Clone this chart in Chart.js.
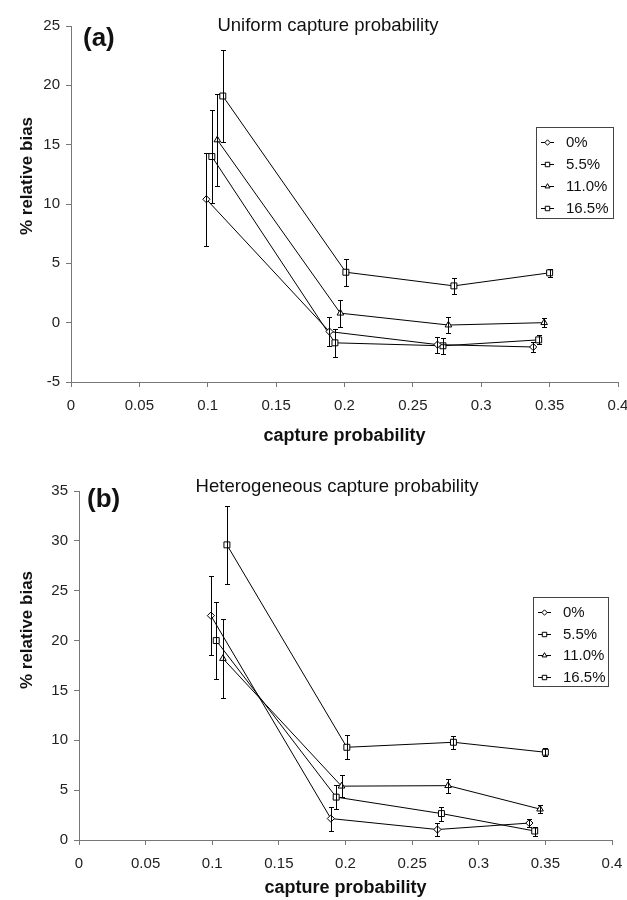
<!DOCTYPE html>
<html lang="en">
<head>
<meta charset="UTF-8">
<title>% relative bias vs capture probability</title>
<script src="https://cdn.jsdelivr.net/npm/chart.js"></script>
<style>
  body { margin: 0; background: #fff; }
  canvas { display: block; }
</style>
</head>
<body>

<canvas id="chartA" width="627" height="450"></canvas>
<canvas id="chartB" width="627" height="450"></canvas>

<script>
// series and axis values
var seriesNames = ['0%', '5.5%', '11.0%', '16.5%'];
var xTickValues = [0, 0.05, 0.1, 0.15, 0.2, 0.25, 0.3, 0.35, 0.4];
var uniformYTicks = [-5, 0, 5, 10, 15, 20, 25];
var heteroYTicks = [0, 5, 10, 15, 20, 25, 30, 35];
var xAxisTitle = 'capture probability';
var yAxisTitle = '% relative bias';

// (a) uniform capture probability
var uniX0 = [0.099, 0.189, 0.268, 0.338];
var uniY0 = [10.4, -0.75, -1.85, -2.05];
var uniE0 = [3.9, 1.2, 0.68, 0.38];
var uniX55 = [0.103, 0.193, 0.272, 0.342];
var uniY55 = [14.0, -1.7, -1.95, -1.45];
var uniE55 = [3.9, 1.17, 0.66, 0.38];
var uniX11 = [0.107, 0.197, 0.276, 0.346];
var uniY11 = [15.4, 0.8, -0.2, 0.0];
var uniE11 = [3.9, 1.15, 0.68, 0.38];
var uniX165 = [0.111, 0.201, 0.280, 0.350];
var uniY165 = [19.1, 4.25, 3.1, 4.2];
var uniE165 = [3.9, 1.15, 0.65, 0.35];

// (b) heterogeneous capture probability
var hetX0 = [0.099, 0.189, 0.269, 0.338];
var hetY0 = [22.5, 2.15, 1.05, 1.7];
var hetE0 = [3.95, 1.2, 0.69, 0.4];
var hetX55 = [0.103, 0.193, 0.272, 0.342];
var hetY55 = [20.0, 4.3, 2.65, 0.9];
var hetE55 = [3.9, 1.17, 0.7, 0.45];
var hetX11 = [0.108, 0.197, 0.277, 0.346];
var hetY11 = [18.2, 5.4, 5.45, 3.1];
var hetE11 = [3.95, 1.1, 0.7, 0.43];
var hetX165 = [0.111, 0.201, 0.281, 0.350];
var hetY165 = [29.6, 9.3, 9.8, 8.8];
var hetE165 = [3.9, 1.2, 0.67, 0.4];

var FONT = '"Liberation Sans", Arial, Helvetica, sans-serif';
var markerStyles = ['rectRot', 'rect', 'triangle', 'rect'];
var markerSizes = [3.6, 4.2, 3.8, 4.2];

function drawMarker(ctx, style, r, x, y) {
    ctx.beginPath();
    if (style === 'rect') {
        var s = r * Math.SQRT1_2;
        ctx.rect(x - s, y - s, 2 * s, 2 * s);
    } else if (style === 'rectRot') {
        ctx.moveTo(x, y - r);
        ctx.lineTo(x + r, y);
        ctx.lineTo(x, y + r);
        ctx.lineTo(x - r, y);
        ctx.closePath();
    } else {
        ctx.moveTo(x, y - r);
        ctx.lineTo(x + r * 0.87, y + r * 0.5);
        ctx.lineTo(x - r * 0.87, y + r * 0.5);
        ctx.closePath();
    }
    ctx.fill();
    ctx.stroke();
}

function buildDatasets(xs, ys, errs) {
    return seriesNames.map(function (name, i) {
        return {
            label: name,
            data: xs[i].map(function (x, j) { return { x: x, y: ys[i][j] }; }),
            errors: errs[i],
            showLine: true,
            borderColor: '#000',
            borderWidth: 1,
            backgroundColor: '#fff',
            pointStyle: markerStyles[i],
            pointRadius: markerSizes[i],
            pointBorderWidth: 1,
            pointBackgroundColor: '#fff',
            pointBorderColor: '#000'
        };
    });
}

// vertical error bars with small caps
var errorBarPlugin = {
    id: 'errorBars',
    afterDatasetsDraw: function (chart) {
        var ctx = chart.ctx;
        var yScale = chart.scales.y;
        ctx.save();
        ctx.strokeStyle = '#000';
        ctx.lineWidth = 1;
        chart.data.datasets.forEach(function (ds, i) {
            var meta = chart.getDatasetMeta(i);
            meta.data.forEach(function (pt, j) {
                var v = ds.data[j].y, e = ds.errors[j];
                var top = Math.round(yScale.getPixelForValue(v + e)) + 0.5;
                var bot = Math.round(yScale.getPixelForValue(v - e)) + 0.5;
                var x = Math.round(pt.x) + 0.5;
                ctx.beginPath();
                ctx.moveTo(x, top); ctx.lineTo(x, bot);
                ctx.moveTo(x - 2.5, top); ctx.lineTo(x + 2.5, top);
                ctx.moveTo(x - 2.5, bot); ctx.lineTo(x + 2.5, bot);
                ctx.stroke();
            });
        });
        ctx.restore();
    }
};

// panel tag, title, axis titles and boxed legend
var decorPlugin = {
    id: 'decor',
    afterDraw: function (chart, args, opts) {
        var ctx = chart.ctx, area = chart.chartArea;
        ctx.save();
        ctx.fillStyle = '#111';
        ctx.textBaseline = 'alphabetic';
        ctx.textAlign = 'left';
        ctx.font = 'bold 26px ' + FONT;
        ctx.fillText(opts.tag, opts.tagX, opts.tagY);

        ctx.textAlign = 'center';
        ctx.font = '18.5px ' + FONT;
        ctx.fillText(opts.title, opts.titleX, opts.titleY);

        ctx.textBaseline = 'middle';
        ctx.font = 'bold 18px ' + FONT;
        ctx.fillText(xAxisTitle, (area.left + area.right) / 2, opts.xTitleY);

        ctx.save();
        ctx.font = 'bold 17px ' + FONT;
        ctx.translate(opts.yTitleX, opts.yTitleY);
        ctx.rotate(-Math.PI / 2);
        ctx.fillText(yAxisTitle, 0, 0);
        ctx.restore();

        var lg = opts.legend;
        ctx.strokeStyle = '#444';
        ctx.lineWidth = 1;
        ctx.strokeRect(lg.x + 0.5, lg.y + 0.5, lg.w, lg.h);
        ctx.font = '15px ' + FONT;
        ctx.textAlign = 'left';
        chart.data.datasets.forEach(function (ds, i) {
            var cy = Math.round(lg.y + lg.first + i * lg.step) + 0.5;
            ctx.strokeStyle = '#000';
            ctx.beginPath();
            ctx.moveTo(lg.x + 5, cy);
            ctx.lineTo(lg.x + 18, cy);
            ctx.stroke();
            ctx.fillStyle = '#fff';
            drawMarker(ctx, ds.pointStyle, ds.pointRadius * 0.75, lg.x + 11.5, cy);
            ctx.fillStyle = '#111';
            ctx.fillText(ds.label, lg.x + 30, cy);
        });
        ctx.restore();
    }
};

function axisTicks(values) {
    return function (scale) {
        scale.ticks = values.map(function (v) { return { value: v }; });
    };
}

function makeChart(id, datasets, yTicks, box, decor) {
    var axisStyle = {
        grid: { display: true, drawOnChartArea: false, drawTicks: true, tickLength: 5, color: '#777' },
        border: { display: true, color: '#777', width: 1 }
    };
    new Chart(document.getElementById(id).getContext('2d'), {
        type: 'scatter',
        data: { datasets: datasets },
        options: {
            responsive: false,
            animation: false,
            layout: { padding: { left: 0, right: box.right, top: box.top, bottom: 0 } },
            scales: {
                x: {
                    type: 'linear',
                    min: xTickValues[0],
                    max: xTickValues[xTickValues.length - 1],
                    afterBuildTicks: axisTicks(xTickValues),
                    afterFit: function (s) { s.height = box.xHeight; s.paddingLeft = 0; s.paddingRight = 0; },
                    grid: axisStyle.grid,
                    border: axisStyle.border,
                    ticks: {
                        color: '#222', padding: 10, maxRotation: 0, autoSkip: false,
                        font: { family: FONT, size: 15 },
                        callback: function (v) { return String(v); }
                    }
                },
                y: {
                    min: yTicks[0],
                    max: yTicks[yTicks.length - 1],
                    afterBuildTicks: axisTicks(yTicks),
                    afterFit: function (s) { s.width = box.yWidth; },
                    grid: axisStyle.grid,
                    border: axisStyle.border,
                    ticks: {
                        color: '#222', padding: 6,
                        font: { family: FONT, size: 15 },
                        callback: function (v) { return String(v); }
                    }
                }
            },
            plugins: {
                legend: { display: false },
                tooltip: { enabled: false },
                decor: decor
            }
        },
        plugins: [errorBarPlugin, decorPlugin]
    });
}

makeChart('chartA',
    buildDatasets([uniX0, uniX55, uniX11, uniX165],
                  [uniY0, uniY55, uniY11, uniY165],
                  [uniE0, uniE55, uniE11, uniE165]),
    uniformYTicks,
    { right: 9, top: 26, xHeight: 68, yWidth: 71 },
    {
        tag: '(a)', tagX: 83, tagY: 46,
        title: 'Uniform capture probability', titleX: 328, titleY: 31,
        xTitleY: 436, yTitleX: 27, yTitleY: 176,
        legend: { x: 536, y: 127, w: 77, h: 91, first: 15, step: 22 }
    });

makeChart('chartB',
    buildDatasets([hetX0, hetX55, hetX11, hetX165],
                  [hetY0, hetY55, hetY11, hetY165],
                  [hetE0, hetE55, hetE11, hetE165]),
    heteroYTicks,
    { right: 15, top: 41, xHeight: 60, yWidth: 79 },
    {
        tag: '(b)', tagX: 87, tagY: 57,
        title: 'Heterogeneous capture probability', titleX: 337, titleY: 42,
        xTitleY: 438, yTitleX: 27, yTitleY: 180,
        legend: { x: 533, y: 147, w: 75, h: 89, first: 15, step: 21.5 }
    });
</script>

</body>
</html>
